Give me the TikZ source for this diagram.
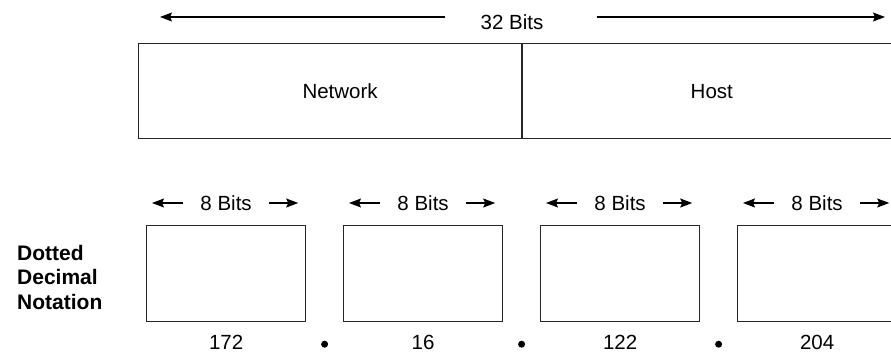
\documentclass[tikz,border=0pt]{standalone}
\usepackage{fontspec}
\setmainfont{Liberation Sans}
\usetikzlibrary{arrows.meta,calc}
\tikzset{
  cell/.style={draw=black!85, line width=1.2pt, inner sep=0pt},
  lab/.style={font=\fontsize{20.5}{24}\selectfont, inner sep=0pt, text depth=0pt},
  side/.style={font=\bfseries\fontsize{21}{24.5}\selectfont, align=left, inner sep=0pt},
  arr/.style={draw=black, line width=1.1pt, -{Stealth[length=12pt,width=9pt,inset=2pt]}},
  sep/.style={circle, fill=black, inner sep=0pt, minimum size=7pt},
}

\begin{document}
\begin{tikzpicture}[x=1pt,y=-1pt]
  \clip (0,0) rectangle (891,352);
  % 32-bit word
  \node[cell, anchor=north west, minimum width=383pt, minimum height=95pt] (net) at (138,43) {};
  \node[cell, anchor=north west, minimum width=380pt, minimum height=95pt] (host) at (net.north east) {};
  \node[lab] (nettxt) at ([xshift=10pt]net.center) {Network};
  \node[lab] (hosttxt) at ([xshift=-1pt]host.center) {Host};
  \node[lab] (word) at (512,22) {32 Bits};
  \coordinate (wl) at (160,17);
  \coordinate (wr) at (885,17);
  \draw[arr] ([xshift=-35pt,yshift=5pt]word.west) -- (wl);
  \draw[arr] ([xshift=53pt,yshift=5pt]word.east) -- (wr);
  % the four octets
  \foreach \i/\v in {0/172,1/16,2/122,3/204}{
    \node[cell, anchor=north west, minimum width=159pt, minimum height=96pt] (b\i) at ({146+197*\i},225) {};
    \node[lab, inner xsep=17pt] (w\i) at ([yshift=22pt]b\i.north) {8 Bits};
    \draw[arr, shorten >=6pt] (w\i.west) -- (w\i.west -| b\i.north west);
    \draw[arr, shorten >=8pt] (w\i.east) -- (w\i.east -| b\i.north east);
    \node[lab] (n\i) at ([yshift=-20pt]b\i.south) {\v};
  }
  \foreach \i/\j in {0/1,1/2,2/3}{
    \node[sep] (d\i) at ($(b\i.south east)!0.5!(b\j.south west)+(0,22)$) {};
  }
  \node[side, anchor=west] (dotted) at (17,277) {Dotted\\Decimal\\Notation};
\end{tikzpicture}
\end{document}
